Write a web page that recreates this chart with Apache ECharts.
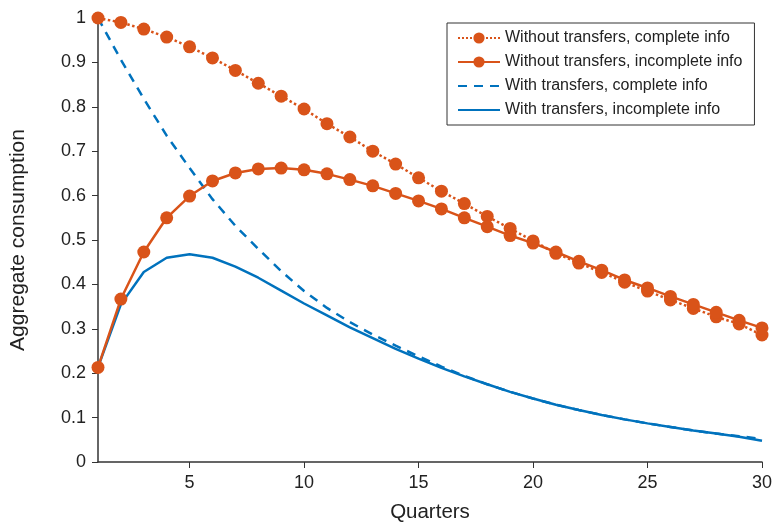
<!DOCTYPE html>
<html>
<head>
<meta charset="utf-8">
<script src="https://cdn.jsdelivr.net/npm/echarts@6/dist/echarts.min.js"></script>
<style>
  html, body { margin: 0; padding: 0; background: #fff; }
  #main { width: 773px; height: 524px; }
</style>
</head>
<body>
<div id="main"></div>
<script>
// quarters 1..30
var quarters = [1, 2, 3, 4, 5, 6, 7, 8, 9, 10, 11, 12, 13, 14, 15, 16, 17, 18, 19, 20, 21, 22, 23, 24, 25, 26, 27, 28, 29, 30];

// Without transfers, complete info (dotted + circles)
var noTransComplete = [1.0, 0.99, 0.975, 0.957, 0.935, 0.91, 0.882, 0.853, 0.824, 0.795, 0.762, 0.732, 0.70, 0.671, 0.64, 0.61, 0.582, 0.553, 0.526, 0.498, 0.47, 0.448, 0.427, 0.405, 0.385, 0.365, 0.346, 0.327, 0.311, 0.286];

// Without transfers, incomplete info (solid + circles)
var noTransIncomplete = [0.213, 0.367, 0.473, 0.55, 0.599, 0.633, 0.651, 0.66, 0.662, 0.658, 0.649, 0.636, 0.622, 0.605, 0.588, 0.57, 0.55, 0.53, 0.51, 0.493, 0.473, 0.452, 0.432, 0.41, 0.392, 0.373, 0.355, 0.337, 0.319, 0.302];

// With transfers, complete info (dashed)
var transComplete = [1.0, 0.906, 0.818, 0.735, 0.662, 0.592, 0.532, 0.48, 0.43, 0.385, 0.347, 0.315, 0.287, 0.262, 0.238, 0.215, 0.194, 0.175, 0.158, 0.143, 0.129, 0.117, 0.106, 0.096, 0.087, 0.079, 0.071, 0.064, 0.058, 0.052];

// With transfers, incomplete info (solid)
var transIncomplete = [0.213, 0.355, 0.428, 0.46, 0.468, 0.46, 0.44, 0.415, 0.386, 0.357, 0.33, 0.303, 0.279, 0.255, 0.233, 0.212, 0.193, 0.175, 0.158, 0.143, 0.129, 0.117, 0.106, 0.096, 0.087, 0.079, 0.071, 0.064, 0.057, 0.048];

var xTicks = [5, 10, 15, 20, 25, 30];

var seriesNames = [
  "Without transfers, complete info",
  "Without transfers, incomplete info",
  "With transfers, complete info",
  "With transfers, incomplete info"
];

var orange = "#D95319";
var blue = "#0072BD";

function pairs(vals) {
  var out = [];
  for (var i = 0; i < quarters.length; i++) {
    out.push([quarters[i], vals[i]]);
  }
  return out;
}

var chart = echarts.init(document.getElementById("main"), null, { renderer: "canvas" });

var fontFam = "'Liberation Sans', Arial, Helvetica, sans-serif";

var option = {
  backgroundColor: "#fff",
  animation: false,
  textStyle: { fontFamily: fontFam },
  grid: { left: 98, right: 11, top: 18, bottom: 62, outerBoundsMode: "none", containLabel: false },
  legend: {
    orient: "vertical",
    left: 447,
    top: 23,
    padding: [6, 12, 6, 10],
    itemGap: 6,
    itemWidth: 42,
    itemHeight: 14,
    borderColor: "#333",
    borderWidth: 1,
    textStyle: { fontSize: 16, color: "#222", fontFamily: fontFam, lineHeight: 18 },
    data: [
      { name: seriesNames[0] },
      { name: seriesNames[1] },
      { name: seriesNames[2], itemStyle: { opacity: 0 } },
      { name: seriesNames[3], itemStyle: { opacity: 0 } }
    ]
  },
  xAxis: {
    type: "value",
    min: 1,
    max: 30,
    name: "Quarters",
    nameLocation: "middle",
    nameGap: 40,
    nameTextStyle: { fontSize: 20.5, color: "#222" },
    axisLine: { onZero: false, lineStyle: { color: "#333", width: 1.5 } },
    axisTick: { show: true, length: 6, lineStyle: { color: "#333" }, customValues: xTicks },
    axisLabel: { fontSize: 18, color: "#222", margin: 12, customValues: xTicks },
    splitLine: { show: false }
  },
  yAxis: {
    type: "value",
    min: 0,
    max: 1,
    interval: 0.1,
    name: "Aggregate consumption",
    nameLocation: "middle",
    nameGap: 69,
    nameTextStyle: { fontSize: 21, color: "#222" },
    axisLine: { show: true, lineStyle: { color: "#333", width: 1.5 } },
    axisTick: { show: true, length: 6, lineStyle: { color: "#333" } },
    axisLabel: { fontSize: 18, color: "#222", margin: 12 },
    splitLine: { show: false }
  },
  series: [
    {
      name: seriesNames[0],
      type: "line",
      data: pairs(noTransComplete),
      symbol: "circle",
      symbolSize: 13,
      itemStyle: { color: orange },
      lineStyle: { color: orange, width: 2.5, type: "dotted" },
      z: 3
    },
    {
      name: seriesNames[1],
      type: "line",
      data: pairs(noTransIncomplete),
      symbol: "circle",
      symbolSize: 13,
      itemStyle: { color: orange },
      lineStyle: { color: orange, width: 2.5, type: "solid" },
      z: 4
    },
    {
      name: seriesNames[2],
      type: "line",
      data: pairs(transComplete),
      symbol: "none",
      itemStyle: { color: blue },
      lineStyle: { color: blue, width: 2.5, type: [9, 7] },
      z: 2
    },
    {
      name: seriesNames[3],
      type: "line",
      data: pairs(transIncomplete),
      symbol: "none",
      itemStyle: { color: blue },
      lineStyle: { color: blue, width: 2.5, type: "solid" },
      z: 2
    }
  ]
};

chart.setOption(option);
</script>
</body>
</html>
